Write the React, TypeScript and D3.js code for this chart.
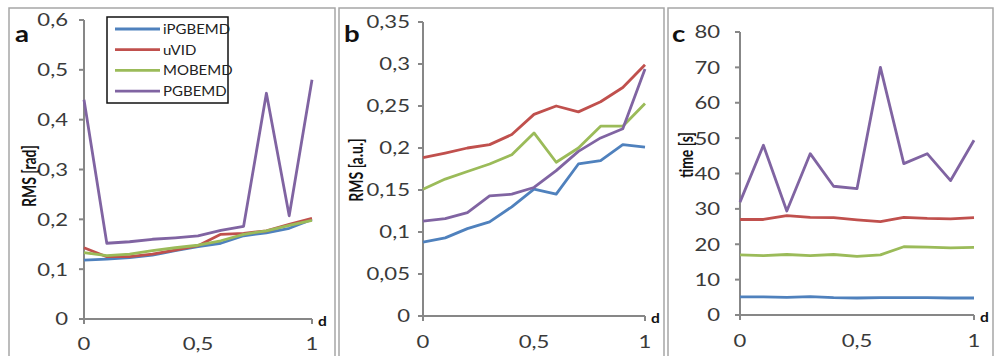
import React from 'react';
import * as d3 from 'd3';

// x values (parameter d)
const dValues = [0, 0.1, 0.2, 0.3, 0.4, 0.5, 0.6, 0.7, 0.8, 0.9, 1];

const seriesNames = ['iPGBEMD', 'uVID', 'MOBEMD', 'PGBEMD'];
const seriesColors = ['#4f81bd', '#c0504d', '#9bbb59', '#8064a2'];

// panel a: RMS [rad]
const rmsRadIPGBEMD = [0.118, 0.12, 0.123, 0.128, 0.137, 0.145, 0.152, 0.167, 0.173, 0.182, 0.2];
const rmsRadUVID = [0.143, 0.125, 0.125, 0.13, 0.138, 0.147, 0.17, 0.172, 0.177, 0.19, 0.202];
const rmsRadMOBEMD = [0.133, 0.127, 0.13, 0.137, 0.143, 0.148, 0.157, 0.17, 0.177, 0.188, 0.198];
const rmsRadPGBEMD = [0.44, 0.152, 0.155, 0.16, 0.163, 0.167, 0.178, 0.186, 0.453, 0.207, 0.48];

// panel b: RMS [a.u.]
const rmsAuIPGBEMD = [0.088, 0.093, 0.104, 0.112, 0.13, 0.151, 0.145, 0.181, 0.185, 0.204, 0.201];
const rmsAuUVID = [0.1885, 0.194, 0.2, 0.204, 0.216, 0.24, 0.25, 0.243, 0.255, 0.272, 0.299];
const rmsAuMOBEMD = [0.151, 0.163, 0.172, 0.181, 0.192, 0.218, 0.183, 0.2, 0.226, 0.226, 0.253];
const rmsAuPGBEMD = [0.113, 0.116, 0.123, 0.143, 0.145, 0.153, 0.173, 0.196, 0.212, 0.223, 0.294];

// panel c: time [s]
const timeIPGBEMD = [5.1, 5.1, 5.0, 5.2, 4.9, 4.8, 4.9, 4.9, 4.9, 4.8, 4.8];
const timeUVID = [27, 27, 28.1, 27.6, 27.5, 26.9, 26.4, 27.6, 27.3, 27.2, 27.5];
const timeMOBEMD = [17, 16.8, 17.1, 16.8, 17.1, 16.6, 17, 19.3, 19.2, 19, 19.1];
const timePGBEMD = [31.9, 48, 29.4, 45.6, 36.4, 35.7, 70, 42.8, 45.6, 38, 49.4];

const yTicksA = [0, 0.1, 0.2, 0.3, 0.4, 0.5, 0.6];
const yTicksB = [0, 0.05, 0.1, 0.15, 0.2, 0.25, 0.3, 0.35];
const yTicksC = [0, 10, 20, 30, 40, 50, 60, 70, 80];
const xTickLabels = [0, 0.5, 1];

const FONT = 'Lato, "Open Sans", sans-serif';
const SX = 1.3; // the source picture is stretched horizontally

const fmt = (v: number) => String(+v.toFixed(2)).replace('.', ',');

const panels = [
  {
    letter: 'a', title: 'RMS [rad]', series: [rmsRadIPGBEMD, rmsRadUVID, rmsRadMOBEMD, rmsRadPGBEMD],
    ticks: yTicksA, left: 84, right: 312, top: 20, bottom: 319,
    titleX: 29, titleY: 176, letterX: 15, gap: 16, xLabelY: 350, box: [9, 335],
  },
  {
    letter: 'b', title: 'RMS [a.u.]', series: [rmsAuIPGBEMD, rmsAuUVID, rmsAuMOBEMD, rmsAuPGBEMD],
    ticks: yTicksB, left: 423, right: 645, top: 22, bottom: 316,
    titleX: 356, titleY: 170, letterX: 344, gap: 13, xLabelY: 348, box: [339, 664],
  },
  {
    letter: 'c', title: 'time [s]', series: [timeIPGBEMD, timeUVID, timeMOBEMD, timePGBEMD],
    ticks: yTicksC, left: 740, right: 974, top: 32, bottom: 315,
    titleX: 686, titleY: 155, letterX: 672, gap: 20, xLabelY: 347, box: [668, 993],
  },
];

const Txt = ({ x, y, sx = SX, rotate = 0, children, ...rest }: any) => (
  <text
    transform={`translate(${x},${y}) scale(${sx},1)${rotate ? ` rotate(${rotate})` : ''}`}
    fontFamily={FONT}
    {...rest}
  >
    {children}
  </text>
);

const Panel = ({ p }: { p: typeof panels[number] }) => {
  const x = d3.scaleLinear().domain([0, 1]).range([p.left, p.right]);
  const y = d3.scaleLinear().domain([0, p.ticks[p.ticks.length - 1]]).range([p.bottom, p.top]);
  const axisColor = '#878787';

  return (
    <g>
      {/* chart frame */}
      <rect x={p.box[0]} y={8} width={p.box[1] - p.box[0]} height={400} fill="none" stroke="#a6a6a6" strokeWidth={1.5} />

      {/* y axis */}
      <line x1={p.left} x2={p.left} y1={p.top} y2={p.bottom + 5} stroke={axisColor} strokeWidth={2} />
      {p.ticks.map(t => (
        <g key={t}>
          <line x1={p.left - 5} x2={p.left} y1={y(t)} y2={y(t)} stroke={axisColor} strokeWidth={2} />
          <Txt x={p.left - p.gap} y={y(t)} textAnchor="end" dominantBaseline="central" fontSize={17} fill="#3a3a3a">
            {fmt(t)}
          </Txt>
        </g>
      ))}

      {/* x axis */}
      <line x1={p.left} x2={p.right} y1={p.bottom} y2={p.bottom} stroke={axisColor} strokeWidth={2} />
      <line x1={p.right} x2={p.right} y1={p.bottom} y2={p.bottom + 5} stroke={axisColor} strokeWidth={2} />
      {xTickLabels.map(t => (
        <Txt key={t} x={x(t)} y={p.xLabelY} textAnchor="middle" fontSize={17} fill="#3a3a3a">
          {fmt(t)}
        </Txt>
      ))}
      <Txt x={p.right + 6} y={p.bottom + 7} fontSize={13} fontWeight="bold" fill="#111" sx={1.2}>d</Txt>

      {/* titles */}
      <Txt x={p.titleX} y={p.titleY} rotate={-90} textAnchor="middle" dominantBaseline="central" fontSize={14} fontWeight="bold" fill="#111" sx={1.3}>
        {p.title}
      </Txt>
      <Txt x={p.letterX} y={42} fontSize={23} fontWeight="bold" fill="#111" sx={1.2}>{p.letter}</Txt>

      {/* series */}
      {p.series.map((vals, i) => {
        const line = d3.line<number>().x((_, j) => x(dValues[j])).y(v => y(v));
        return (
          <path key={i} d={line(vals) || ''} fill="none" stroke={seriesColors[i]} strokeWidth={2.8} strokeLinejoin="round" />
        );
      })}
    </g>
  );
};

export default function App() {
  const legendX = 107, legendY = 17;
  return (
    <svg width={994} height={356} style={{ position: 'fixed', left: 0, top: 0, background: '#fff' }}>
      <rect x={0} y={0} width={994} height={356} fill="#fff" />
      {panels.map(p => <Panel key={p.letter} p={p} />)}

      {/* legend */}
      <rect x={legendX} y={legendY} width={121} height={86} fill="#fff" stroke="#111" strokeWidth={1.5} />
      {seriesNames.map((name, i) => {
        const cy = legendY + 12 + i * 20.7;
        return (
          <g key={name}>
            <line x1={legendX + 8} x2={legendX + 53} y1={cy} y2={cy} stroke={seriesColors[i]} strokeWidth={2.8} />
            <Txt x={legendX + 56} y={cy} dominantBaseline="central" fontSize={12.5} fill="#222" sx={1.2}>
              {name}
            </Txt>
          </g>
        );
      })}
    </svg>
  );
}
